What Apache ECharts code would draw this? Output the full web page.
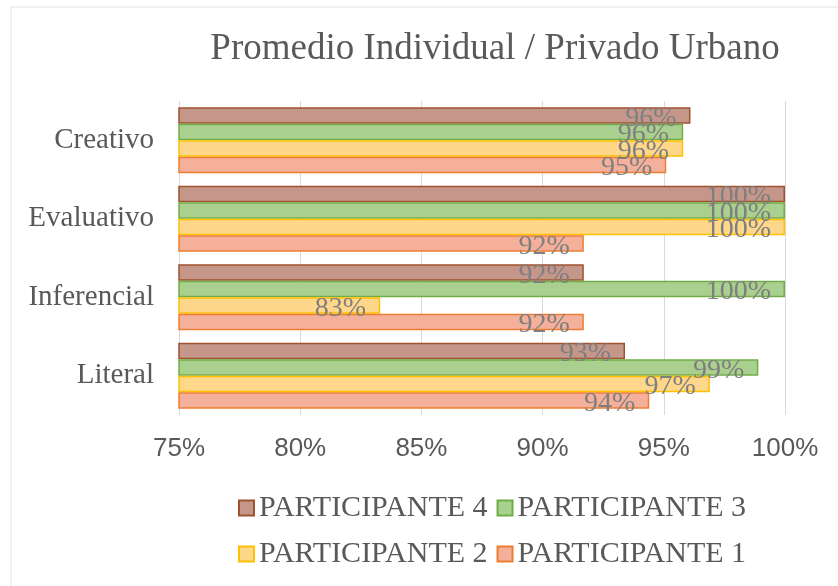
<!DOCTYPE html>
<html>
<head>
<meta charset="utf-8">
<script src="https://cdn.jsdelivr.net/npm/echarts@6/dist/echarts.min.js"></script>
<style>
    html, body { margin: 0; padding: 0; background: #fff; }
    #chart { width: 838px; height: 586px; }
</style>
</head>
<body>
<div id="chart"></div>
<script>
// categories, bottom to top
const categories = ['Literal', 'Inferencial', 'Evaluativo', 'Creativo'];

// values in percent, same order as categories
const participante1 = [94.4, 91.7, 91.7, 95.1];
const participante2 = [96.9, 83.3, 100, 95.8];
const participante3 = [98.9, 100, 100, 95.8];
const participante4 = [93.4, 91.7, 100, 96.1];

const xTicks = [75, 80, 85, 90, 95, 100];

const serif = '"Liberation Serif", "Times New Roman", serif';
const sans = '"Liberation Sans", Arial, sans-serif';

const mkSeries = (name, data, fill, border) => ({
    name: name,
    type: 'bar',
    data: data,
    barGap: '0%',
    barCategoryGap: '16%',
    itemStyle: {
        color: fill,
        borderColor: border,
        borderWidth: 1.5
    },
    label: {
        show: true,
        position: 'insideRight',
        distance: 14,
        formatter: p => Math.round(p.value) + '%',
        color: '#7f7f7f',
        fontFamily: serif,
        fontSize: 28,
        offset: [0, 3]
    }
});

const legendText = {fontFamily: serif, fontSize: 30, color: '#595959'};

const option = {
    animation: false,
    backgroundColor: '#fff',
    graphic: [{
        type: 'rect',
        shape: {x: 11, y: 7, width: 900, height: 700},
        style: {fill: 'none', stroke: '#e3e3e3', lineWidth: 1},
        silent: true
    }],
    title: {
        text: 'Promedio Individual / Privado Urbano',
        left: 490,
        top: 26,
        textAlign: 'center',
        textStyle: {
            fontFamily: serif,
            fontSize: 37,
            fontWeight: 'normal',
            color: '#595959'
        }
    },
    legend: [
        {
            data: ['PARTICIPANTE 4', 'PARTICIPANTE 3'],
            left: 233,
            top: 488,
            icon: 'rect',
            itemWidth: 15,
            itemHeight: 15,
            itemGap: 9,
            textStyle: legendText
        },
        {
            data: ['PARTICIPANTE 2', 'PARTICIPANTE 1'],
            left: 233,
            top: 534,
            icon: 'rect',
            itemWidth: 15,
            itemHeight: 15,
            itemGap: 9,
            textStyle: legendText
        }
    ],
    grid: {
        left: 179,
        right: 53,
        top: 101,
        bottom: 171,
        containLabel: false
    },
    xAxis: {
        type: 'value',
        min: xTicks[0],
        max: xTicks[xTicks.length - 1],
        interval: 5,
        axisLine: {show: false},
        axisTick: {show: false},
        splitLine: {lineStyle: {color: '#d9d9d9', width: 1}},
        axisLabel: {
            margin: 21,
            formatter: v => v + '%',
            fontFamily: sans,
            fontSize: 26,
            color: '#595959'
        }
    },
    yAxis: {
        type: 'category',
        data: categories,
        axisLine: {show: false},
        axisTick: {show: false},
        axisLabel: {
            margin: 25,
            fontFamily: serif,
            fontSize: 29,
            color: '#595959'
        }
    },
    series: [
        mkSeries('PARTICIPANTE 4', participante4, '#c5978b', '#a0522d'),
        mkSeries('PARTICIPANTE 3', participante3, '#a9d08e', '#70ad47'),
        mkSeries('PARTICIPANTE 2', participante2, '#ffd78a', '#ffc000'),
        mkSeries('PARTICIPANTE 1', participante1, '#f4b09a', '#ed7d31')
    ]
};

const chart = echarts.init(document.getElementById('chart'));
chart.setOption(option);
</script>
</body>
</html>
